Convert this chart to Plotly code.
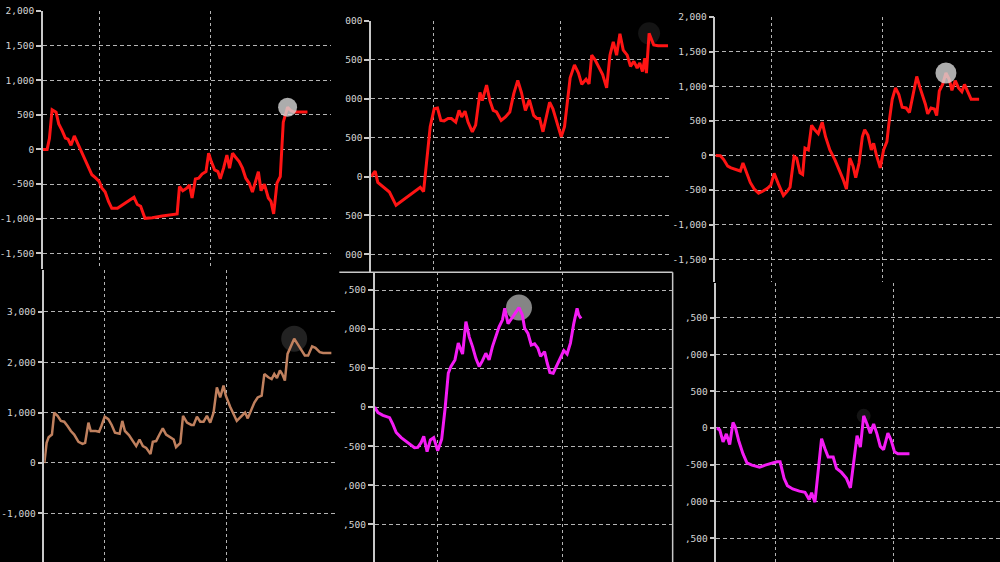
import plotly.graph_objects as go

W, H = 1000, 562

# ---------------- data (cumulative P&L per panel; x = day index) ----------------
p1_day = [0,13,20,28,40,48,58,68,76,85,95,105,115,125,138,148,160,170,178,188,
          198,208,225,240,258,275,285,295,308,330,360,390,405,412,422,435,442,450,460,470,
          480,492,500,508,518,528,535,545,555,563,572,580,592,602,612,622,632,650,658,668,
          680,688,696,706,716,725,738,748,758,798]
p1_val = [0,0,160,575,540,370,275,165,150,60,195,85,0,-130,-270,-365,-415,-460,-555,-615,
          -750,-850,-850,-805,-750,-690,-795,-820,-995,-985,-960,-940,-930,-535,-595,-555,-510,-700,-425,-415,
          -355,-320,-55,-175,-295,-320,-425,-270,-80,-270,-55,-105,-175,-270,-415,-485,-615,-320,-595,-500,
          -700,-750,-930,-485,-390,395,610,560,540,540]

p2_day = [0,12,20,32,45,55,75,95,115,135,148,158,170,178,190,200,210,220,232,242,
          255,265,273,283,292,305,315,328,335,348,358,368,378,392,405,418,430,442,453,465,
          477,490,500,508,518,530,538,548,560,573,583,592,600,613,625,635,648,657,665,675,
          685,698,710,720,730,740,750,760,772,782,792,802,810,818,825,830,838,852,865,895]
p2_val = [0,70,-75,-118,-160,-200,-370,-307,-245,-180,-140,-195,260,640,870,880,720,715,745,745,
          700,850,765,840,700,575,660,1080,975,1175,975,850,830,720,765,830,1065,1235,1080,850,
          985,785,745,745,575,805,955,870,680,510,640,975,1270,1435,1330,1185,1250,1190,1560,1500,
          1415,1310,1140,1560,1730,1560,1835,1625,1560,1415,1480,1395,1460,1350,1520,1330,1840,1690,1680,1680]

p3_day = [0,15,25,37,47,60,75,83,93,105,117,130,145,157,167,177,190,205,215,225,
          237,245,255,263,270,280,290,300,310,322,332,345,360,373,385,395,405,415,423,433,
          443,450,460,470,477,485,497,507,517,523,533,543,553,563,575,585,595,607,617,625,
          633,640,650,660,667,675,685,695,705,713,723,733,743,751,761,771,795]
p3_val = [0,-5,-60,-155,-180,-200,-225,-110,-250,-390,-485,-545,-510,-475,-430,-260,-415,-580,-525,-460,
          -15,-40,-250,-275,105,80,435,365,315,480,270,80,-60,-205,-345,-485,-40,-155,-320,-110,
          270,370,290,80,175,10,-180,80,200,455,810,975,880,695,685,620,835,1140,975,860,
          740,600,685,670,575,930,1025,1190,1095,940,1080,975,920,1025,920,810,810]

p4_day = [0,7,13,23,30,40,50,60,70,80,90,103,115,123,133,140,155,165,172,182,
          193,203,213,227,235,243,255,267,277,287,297,307,320,327,337,347,357,367,380,390,
          397,410,418,430,443,450,460,470,480,490,500,510,520,530,540,547,560,570,580,595,
          605,613,623,633,643,655,663,675,685,693,701,710,717,725,733,743,753,763,773,785,
          795,807,817,830,840,865]
p4_val = [0,400,510,565,1000,935,835,820,735,635,565,420,380,400,800,635,635,620,735,920,
          870,755,600,580,835,635,555,435,335,465,335,300,180,420,435,565,685,565,510,465,
          315,400,935,800,755,755,920,820,820,935,800,1000,1500,1300,1535,1335,1115,980,835,935,
          1000,885,1035,1200,1300,1335,1765,1700,1665,1765,1685,1835,1765,1635,2165,2300,2465,2365,2265,2135,
          2135,2315,2285,2200,2185,2185]

p5_day = [0,10,25,45,55,65,80,95,110,120,130,140,148,158,168,178,190,202,212,222,
          230,242,252,265,275,285,295,305,315,325,335,345,355,365,375,385,392,402,415,428,
          435,445,452,462,472,482,492,500,512,520,528,538,548,560,570,580,590,600,610,615,622]
p5_val = [0,-70,-105,-135,-220,-325,-390,-440,-495,-520,-515,-455,-375,-570,-420,-390,-560,-410,-30,435,
          520,605,820,680,1095,900,775,625,520,595,690,605,775,900,1030,1115,1265,1070,1155,1240,
          1275,1180,1010,945,795,810,755,650,710,565,445,435,520,625,725,680,820,1070,1265,1180,1135]

p6_day = [0,10,20,30,40,50,57,67,80,92,107,130,147,167,182,192,204,214,230,250,
          267,280,287,297,307,317,327,337,352,362,377,392,404,414,424,434,444,454,464,474,
          484,494,504,517,527,537,547,582]
p6_val = [0,-25,-190,-80,-225,75,10,-170,-350,-475,-505,-535,-505,-475,-460,-460,-685,-785,-830,-860,
          -875,-975,-880,-1010,-570,-145,-280,-395,-395,-550,-605,-685,-815,-480,-105,-260,165,55,-70,55,
          -80,-250,-295,-70,-170,-325,-350,-350]

tick_500 = [2000, 1500, 1000, 500, 0, -500, -1000, -1500]
p1_ticktext = ["2,000", "1,500", "1,000", "500", "0", "-500", "-1,000", "-1,500"]
p2_tickvals = [2000, 1500, 1000, 500, 0, -500, -1000]
p2_ticktext = ["000", "500", "000", "500", "0", "500", "000"]
p3_ticktext = ["2,000", "1,500", "1,000", "500", "0", "-500", "-1,000", "-1,500"]
p4_tickvals = [3000, 2000, 1000, 0, -1000]
p4_ticktext = ["3,000", "2,000", "1,000", "0", "-1,000"]
p56_tickvals = [1500, 1000, 500, 0, -500, -1000, -1500]
p56_ticktext = [",500", ",000", "500", "0", "-500", ",000", ",500"]

RED = "#ff1414"
BROWN = "#c0805e"
MAGENTA = "#f41cf4"

fig = go.Figure()

# panel geometry in screen pixels (layout only)
panels = [
    dict(day=p1_day, val=p1_val, color=RED, lw=3, x0=38, x1=328, y0=5, y1=266,
         yr=[-1728.6, 2001], tv=tick_500, tt=p1_ticktext, xr=870, grid=[171, 507],
         circ=dict(color="rgba(215,215,215,0.8)", size=19, above=True)),
    dict(day=p2_day, val=p2_val, color=RED, lw=3, x0=368, x1=669, y0=15, y1=269,
         yr=[-1229, 2001], tv=p2_tickvals, tt=p2_ticktext, xr=903, grid=[189, 570],
         circ=dict(color="rgba(25,25,25,0.8)", size=22, above=False)),
    dict(day=p3_day, val=p3_val, color=RED, lw=3, x0=714, x1=993, y0=11, y1=279,
         yr=[-1828.6, 2001], tv=tick_500, tt=p3_ticktext, xr=837, grid=[168, 505],
         circ=dict(color="rgba(215,215,215,0.8)", size=21, above=True)),
    dict(day=p4_day, val=p4_val, color=BROWN, lw=2.5, x0=39.5, x1=333, y0=267, y1=562,
         yr=[-1965, 3827], tv=p4_tickvals, tt=p4_ticktext, xr=880, grid=[182, 550],
         circ=dict(color="rgba(38,38,38,0.9)", size=26, above=False)),
    dict(day=p5_day, val=p5_val, color=MAGENTA, lw=3, x0=371.5, x1=671, y0=269, y1=562,
         yr=[-1983, 1729], tv=p56_tickvals, tt=p56_ticktext, xr=898, grid=[190, 567],
         circ=dict(color="rgba(140,140,140,0.95)", size=26, above=False)),
    dict(day=p6_day, val=p6_val, color=MAGENTA, lw=3, x0=715, x1=1000, y0=280, y1=562,
         yr=[-1824, 1973], tv=p56_tickvals, tt=p56_ticktext, xr=855, grid=[179, 534],
         circ=dict(color="rgba(40,40,40,0.5)", size=14, above=False)),
]

FONT = dict(family="DejaVu Sans Mono", size=9.5, color="#d6d6d6")
AXC = "#c8c8c8"
GRIDC = "#b4b4b4"

for i, p in enumerate(panels, start=1):
    xa = "x" if i == 1 else f"x{i}"
    ya = "y" if i == 1 else f"y{i}"
    kx = "xaxis" if i == 1 else f"xaxis{i}"
    ky = "yaxis" if i == 1 else f"yaxis{i}"
    imax = max(range(len(p["val"])), key=lambda k: (p["val"][k], k))
    circ = go.Scatter(x=[p["day"][imax]], y=[p["val"][imax]], mode="markers",
                      marker=dict(size=p["circ"]["size"], color=p["circ"]["color"], line=dict(width=0)),
                      xaxis=xa, yaxis=ya, hoverinfo="skip", showlegend=False)
    line = go.Scatter(x=p["day"], y=p["val"], mode="lines",
                      line=dict(color=p["color"], width=p["lw"]),
                      xaxis=xa, yaxis=ya, showlegend=False)
    if p["circ"]["above"]:
        fig.add_trace(line); fig.add_trace(circ)
    else:
        fig.add_trace(circ); fig.add_trace(line)

    fig.layout[kx] = dict(domain=[p["x0"] / W, p["x1"] / W], range=[0, p["xr"]],
                          anchor=ya, showticklabels=False, ticks="", showline=False,
                          zeroline=False, showgrid=True, tickvals=p["grid"],
                          gridcolor=GRIDC, gridwidth=1, griddash="3px,3px")
    fig.layout[ky] = dict(domain=[1 - p["y1"] / H, 1 - p["y0"] / H], range=p["yr"],
                          anchor=xa, tickvals=p["tv"], ticktext=p["tt"],
                          tickfont=FONT, ticks="outside", ticklen=5, tickcolor=AXC,
                          tickwidth=1.5, showline=True, linecolor=AXC, linewidth=1.5,
                          zeroline=False, showgrid=True, gridcolor=GRIDC, gridwidth=1,
                          griddash="4px,3px")

# frame of the lower-middle panel
fig.add_shape(type="line", xref="paper", yref="paper", x0=336 / W, x1=671 / W,
              y0=1 - 269 / H, y1=1 - 269 / H, line=dict(color=AXC, width=1.5), layer="above")
fig.add_shape(type="line", xref="paper", yref="paper", x0=671 / W, x1=671 / W,
              y0=0, y1=1 - 269 / H, line=dict(color=AXC, width=1.5), layer="above")

fig.update_layout(width=W, height=H, margin=dict(l=0, r=0, t=0, b=0),
                  paper_bgcolor="black", plot_bgcolor="black", showlegend=False)

fig.write_html("out.html", config={"displayModeBar": False},
               post_script="document.body.style.margin='0';document.body.style.background='black';")
